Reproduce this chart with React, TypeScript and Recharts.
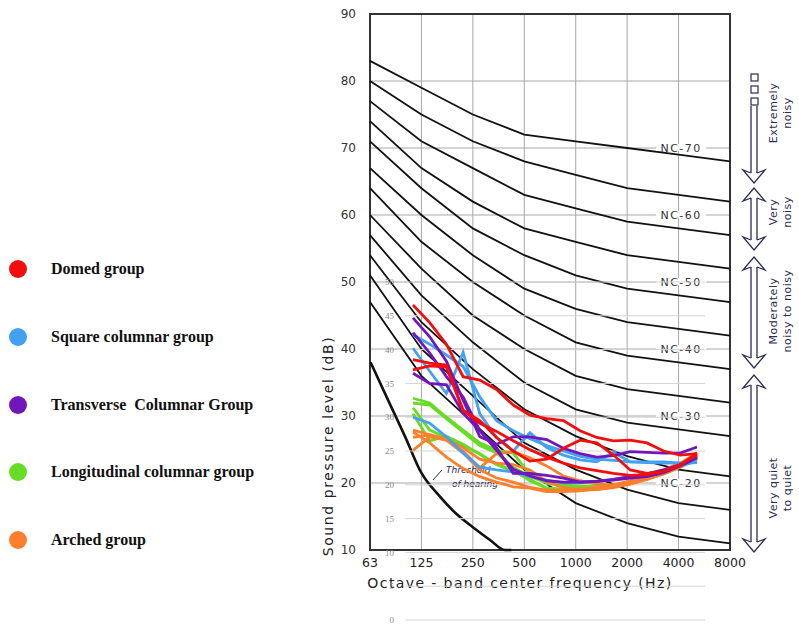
import {
  CartesianGrid,
  ComposedChart,
  Line,
  ReferenceArea,
  ReferenceDot,
  XAxis,
  YAxis,
} from 'recharts';

// octave bands of the NC chart (x = octave number, 0 = 63 Hz)
const OCTAVE_LABELS = ['63', '125', '250', '500', '1000', '2000', '4000', '8000'];

const NC_70 = [83, 79, 75, 72, 71, 70, 69, 68];
const NC_65 = [80, 75, 71, 68, 66, 64, 63, 62];
const NC_60 = [77, 71, 67, 63, 61, 59, 58, 57];
const NC_55 = [74, 67, 62, 58, 56, 54, 53, 52];
const NC_50 = [71, 64, 58, 54, 51, 49, 48, 47];
const NC_45 = [67, 60, 54, 49, 46, 44, 43, 42];
const NC_40 = [64, 56, 50, 45, 41, 39, 38, 37];
const NC_35 = [60, 52, 45, 40, 36, 34, 33, 32];
const NC_30 = [57, 48, 41, 35, 31, 29, 28, 27];
const NC_25 = [54, 44, 37, 31, 27, 24, 22, 21];
const NC_20 = [51, 40, 33, 26, 22, 19, 17, 16];
const NC_15 = [47, 36, 29, 22, 17, 14, 12, 11];

const NC_TAGS = [70, 60, 50, 40, 30, 20];

const THRESHOLD_HZ = [63, 80, 100, 125, 160, 200, 250, 315, 385, 420];
const THRESHOLD_DB = [38, 32.3, 27, 21.5, 18, 15.4, 13.4, 11.5, 10, 10];

// 1/3-octave bands of the measured spectra
const BANDS = ['100', '125', '160', '200', '250', '315', '400', '500', '630', '800',
  '1000', '1250', '1600', '2000', '2500', '3150', '4000', '5000'];

const DOMED_1 = [46.6, 44.0, 40.8, 36.0, 35.5, 34.1, 31.8, 30.3, 29.8, 29.5, 28.0, 27.0, 26.5, 26.6, 26.2, 25.0, 24.4, 24.6];
const DOMED_2 = [38.5, 38.0, 37.7, 31.0, 29.1, 27.9, 26.5, 25.2, 24.1, 23.2, 22.5, 22.1, 21.7, 21.4, 21.5, 22.0, 22.9, 24.7];
const DOMED_3 = [37.0, 37.6, 37.4, 31.0, 29.5, 27.0, 25.0, 23.5, 23.8, 25.4, 26.6, 26.2, 24.4, 22.2, 21.7, 22.0, 23.0, 24.4];

const SQUARE_1 = [42.2, 40.8, 39.2, 37.5, 33.0, 29.5, 28.0, 26.8, 25.8, 25.0, 24.2, 23.8, 23.6, 23.4, 23.3, 23.2, 23.2, 23.3];
const SQUARE_2 = [40.2, 36.8, 33.5, 39.6, 30.5, 27.0, 25.0, 27.7, 25.5, 24.4, 23.7, 23.4, 24.8, 23.4, 23.4, 23.4, 23.2, 23.3];
const SQUARE_3 = [30.0, 29.1, 27.1, 24.7, 22.6, 22.2, 21.9, 21.2, 20.7, 20.3, 20.3, 20.5, 20.8, 21.2, 21.6, 22.2, 22.8, 23.5];

const TRANSVERSE_1 = [44.7, 41.9, 38.3, 32.5, 27.1, 26.0, 27.1, 27.1, 26.7, 25.4, 24.6, 24.1, 24.3, 24.9, 24.8, 24.7, 24.7, 25.6];
const TRANSVERSE_2 = [36.5, 35.0, 34.8, 30.6, 28.0, 25.5, 21.7, 21.7, 21.4, 21.0, 20.4, 20.5, 20.7, 21.0, 21.2, 21.8, 22.8, 24.0];
const TRANSVERSE_3 = [42.5, 39.5, 36.0, 33.0, 28.0, 25.1, 22.3, 21.3, 20.6, 20.4, 20.4, 20.5, 20.8, 21.2, 21.6, 22.2, 23.0, 24.2];

const LONGITUDINAL_1 = [32.8, 32.1, 30.0, 28.1, 26.2, 25.1, 24.7, 21.5, 20.3, 20.0, 19.8, 19.8, 20.0, 20.4, 21.0, 21.8, 22.8, 24.0];
const LONGITUDINAL_2 = [32.1, 31.8, 29.8, 27.8, 25.8, 24.7, 22.6, 21.2, 20.3, 19.7, 19.6, 19.6, 19.9, 20.3, 20.9, 21.7, 22.7, 23.9];
const LONGITUDINAL_3 = [31.4, 28.1, 27.0, 25.8, 24.6, 23.0, 22.2, 20.6, 19.5, 19.2, 19.2, 19.3, 19.7, 20.2, 20.8, 21.6, 22.6, 23.8];
const LONGITUDINAL_4 = [30.5, 26.5, 27.2, 26.0, 24.5, 23.0, 22.0, 20.8, 19.5, 19.4, 19.4, 19.5, 19.8, 20.3, 20.9, 21.7, 22.7, 23.9];

const ARCHED_1 = [28.1, 27.4, 26.6, 25.0, 22.5, 24.6, 24.9, 24.0, 22.8, 21.3, 20.6, 20.1, 20.0, 20.3, 21.0, 21.8, 22.8, 24.4];
const ARCHED_2 = [25.1, 27.1, 26.6, 24.7, 22.2, 21.0, 20.4, 19.6, 19.2, 19.2, 19.4, 19.6, 20.0, 20.6, 21.3, 22.2, 23.2, 24.7];
const ARCHED_3 = [27.8, 26.2, 24.1, 22.4, 21.2, 20.4, 19.7, 19.5, 19.0, 19.0, 19.1, 19.4, 19.9, 20.5, 21.1, 22.0, 23.1, 24.1];
const ARCHED_4 = [27.0, 27.4, 26.8, 25.5, 23.8, 23.2, 23.0, 22.2, 20.5, 19.6, 19.3, 19.3, 19.6, 20.1, 20.8, 21.6, 22.6, 24.2];

const GROUPS = [
  { key: 'dom', name: 'Domed group', color: '#f40d0d', series: [DOMED_1, DOMED_2, DOMED_3] },
  { key: 'sq', name: 'Square columnar group', color: '#42a1f0', series: [SQUARE_1, SQUARE_2, SQUARE_3] },
  { key: 'tr', name: 'Transverse  Columnar Group', color: '#7116bd', series: [TRANSVERSE_1, TRANSVERSE_2, TRANSVERSE_3] },
  { key: 'lo', name: 'Longitudinal columnar group', color: '#66dd22', series: [LONGITUDINAL_1, LONGITUDINAL_2, LONGITUDINAL_3, LONGITUDINAL_4] },
  { key: 'ar', name: 'Arched group', color: '#fd7f2c', series: [ARCHED_1, ARCHED_2, ARCHED_3, ARCHED_4] },
];
// drawn bottom to top
const DRAW_ORDER = ['lo', 'ar', 'sq', 'tr', 'dom'];

const NC_CURVES = [
  { level: 70, values: NC_70 }, { level: 65, values: NC_65 }, { level: 60, values: NC_60 },
  { level: 55, values: NC_55 }, { level: 50, values: NC_50 }, { level: 45, values: NC_45 },
  { level: 40, values: NC_40 }, { level: 35, values: NC_35 }, { level: 30, values: NC_30 },
  { level: 25, values: NC_25 }, { level: 20, values: NC_20 }, { level: 15, values: NC_15 },
];

const ncRows = OCTAVE_LABELS.map((_, i) => {
  const row: Record<string, number> = { x: i };
  NC_CURVES.forEach((c) => (row[`nc${c.level}`] = c.values[i]));
  return row;
});

const thresholdRows = THRESHOLD_HZ.map((f, i) => ({ x: Math.log2(f / 62.5), db: THRESHOLD_DB[i] }));

const bandRows = BANDS.map((b, i) => {
  const row: Record<string, number | string> = { band: b };
  GROUPS.forEach((g) => g.series.forEach((s, j) => (row[`${g.key}${j}`] = s[i])));
  return row;
});

const HAND = '"DejaVu Sans", sans-serif';

function NcTag({ cx, cy, text }: { cx?: number; cy?: number; text: string }) {
  if (cx == null || cy == null) return null;
  return (
    <g>
      <rect x={cx - 25} y={cy - 4} width={50} height={7} fill="#fff" />
      <text x={cx} y={cy + 4} textAnchor="middle" fontSize={11} fill="#333" letterSpacing={1.5} fontFamily={HAND}>
        {text}
      </text>
    </g>
  );
}

function Arrow({ top, bottom, upHead }: { top: number; bottom: number; upHead: boolean }) {
  const cx = 754;
  const shaftTop = upHead ? top + 10 : top;
  const shaftBottom = bottom - 10;
  return (
    <g fill="none" stroke="#2b2b55" strokeWidth={1.3}>
      <line x1={cx - 3} y1={shaftTop} x2={cx - 3} y2={shaftBottom} />
      <line x1={cx + 3} y1={shaftTop} x2={cx + 3} y2={shaftBottom} />
      <polyline points={`${cx - 3},${shaftBottom} ${cx - 11},${bottom - 13} ${cx},${bottom} ${cx + 11},${bottom - 13} ${cx + 3},${shaftBottom}`} />
      {upHead && (
        <polyline points={`${cx - 3},${shaftTop} ${cx - 11},${top + 13} ${cx},${top} ${cx + 11},${top + 13} ${cx + 3},${shaftTop}`} />
      )}
    </g>
  );
}

function SideLabel({ y, lines }: { y: number; lines: string[] }) {
  return (
    <g fill="#2b2b55" fontSize={11} fontFamily={HAND} letterSpacing={0.5}>
      {lines.map((t, i) => (
        <text key={t} transform={`translate(${777 + i * 14},${y}) rotate(-90)`} textAnchor="middle">
          {t}
        </text>
      ))}
    </g>
  );
}

export default function App() {
  return (
    <div style={{ position: 'absolute', left: 0, top: 0, width: 799, height: 629, background: '#fff', overflow: 'hidden' }}>
      <div style={{ position: 'absolute', left: 0, top: 0 }}>
        <ComposedChart width={799} height={629} data={ncRows} margin={{ top: 14, right: 69, bottom: 49, left: 330 }}>
          <CartesianGrid stroke="#a8a8a8" strokeWidth={1} />
          <XAxis
            dataKey="x"
            type="number"
            domain={[0, 7]}
            ticks={[0, 1, 2, 3, 4, 5, 6, 7]}
            tickFormatter={(v: number) => OCTAVE_LABELS[v]}
            axisLine={false}
            tickLine={false}
            tick={{ fontSize: 12.5, fill: '#222', fontFamily: HAND }}
            height={30}
          />
          <YAxis
            type="number"
            domain={[10, 90]}
            ticks={[10, 20, 30, 40, 50, 60, 70, 80, 90]}
            axisLine={false}
            tickLine={false}
            tickMargin={8}
            width={40}
            tick={{ fontSize: 12, fill: '#333', fontFamily: HAND }}
          />
          <ReferenceArea x1={0} x2={7} y1={10} y2={90} fill="none" stroke="#333" strokeWidth={2} />
          {NC_CURVES.map((c) => (
            <Line
              key={c.level}
              dataKey={`nc${c.level}`}
              type="linear"
              stroke="#111"
              strokeWidth={1.8}
              dot={false}
              isAnimationActive={false}
            />
          ))}
          <Line
            data={thresholdRows}
            dataKey="db"
            type="monotone"
            stroke="#111"
            strokeWidth={2.6}
            dot={false}
            isAnimationActive={false}
          />
          {NC_TAGS.map((lvl) => (
            <ReferenceDot
              key={lvl}
              x={6.05}
              y={lvl}
              r={0}
              shape={(p: any) => <NcTag cx={p.cx} cy={p.cy} text={`NC-${lvl}`} />}
            />
          ))}
        </ComposedChart>
      </div>

      <svg width={799} height={629} style={{ position: 'absolute', left: 0, top: 0, pointerEvents: 'none' }}>
        <text
          transform="translate(333,446) rotate(-90)"
          textAnchor="middle"
          fontSize={14}
          letterSpacing={1.6}
          fill="#222"
          fontFamily={HAND}
        >
          Sound pressure level (dB)
        </text>
        <text x={520} y={588} textAnchor="middle" fontSize={14} letterSpacing={1.4} fill="#222" fontFamily={HAND}>
          Octave - band center frequency (Hz)
        </text>
        <g fill="#2b2b55" fontSize={9} fontFamily={HAND} fontStyle="italic">
          <text x={446} y={473}>Threshold</text>
          <text x={452} y={487}>of hearing</text>
          <line x1={442} y1={470} x2={433} y2={480} stroke="#2b2b55" strokeWidth={1} />
        </g>
        {[74, 86, 98].map((y) => (
          <rect key={y} x={751} y={y} width={7} height={7} fill="none" stroke="#2b2b55" strokeWidth={1.2} />
        ))}
        <Arrow top={106} bottom={183} upHead={false} />
        <Arrow top={188} bottom={250} upHead />
        <Arrow top={257} bottom={368} upHead />
        <Arrow top={375} bottom={552} upHead />
        <SideLabel y={113} lines={['Extremely', 'noisy']} />
        <SideLabel y={212} lines={['Very', 'noisy']} />
        <SideLabel y={311} lines={['Moderately', 'noisy to noisy']} />
        <SideLabel y={488} lines={['Very quiet', 'to quiet']} />
      </svg>

      <div style={{ position: 'absolute', left: 0, top: 0 }}>
        <ComposedChart width={799} height={629} data={bandRows} margin={{ top: 282, right: 94, bottom: 9, left: 375 }}>
          <CartesianGrid stroke="#d4d4d4" vertical={false} />
          <XAxis dataKey="band" hide padding={{ left: 8, right: 8 }} />
          <YAxis
            type="number"
            domain={[0, 50]}
            ticks={[0, 5, 10, 15, 20, 25, 30, 35, 40, 45, 50]}
            axisLine={false}
            tickLine={false}
            tickMargin={5}
            width={30}
            tick={{ fontSize: 9, fill: '#8a8a8a' }}
          />
          {DRAW_ORDER.map((k) => {
            const g = GROUPS.find((x) => x.key === k)!;
            return g.series.map((_, j) => (
              <Line
                key={`${k}${j}`}
                dataKey={`${k}${j}`}
                type="linear"
                stroke={g.color}
                strokeWidth={2.8}
                dot={false}
                isAnimationActive={false}
              />
            ));
          })}
        </ComposedChart>
      </div>

      {GROUPS.map((g, i) => (
        <div
          key={g.key}
          style={{
            position: 'absolute',
            left: 9,
            top: 259 + i * 67.8,
            display: 'flex',
            alignItems: 'center',
            height: 20,
            fontFamily: '"Liberation Serif", serif',
            fontWeight: 'bold',
            fontSize: 16,
            color: '#111',
            whiteSpace: 'pre',
          }}
        >
          <span style={{ width: 18, height: 18, borderRadius: 9, background: g.color, display: 'inline-block' }} />
          <span style={{ marginLeft: 24 }}>{g.name}</span>
        </div>
      ))}
    </div>
  );
}
